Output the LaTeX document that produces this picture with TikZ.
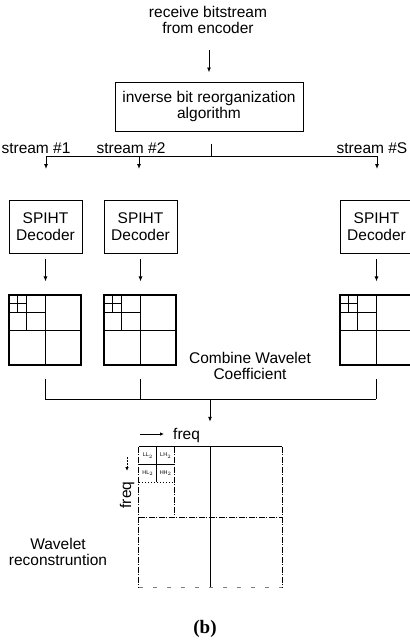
\documentclass[tikz,border=0pt]{standalone}
\usepackage{fontspec}
\setmainfont{Liberation Sans}
\newfontfamily\capserif{Liberation Serif}
\usetikzlibrary{arrows.meta,calc}
\begin{document}
\begin{tikzpicture}[x=1pt,y=-1pt,
  lbl/.style={font=\fontsize{15.5}{16.5}\selectfont, align=center, inner sep=0pt},
  boxx/.style={draw, line width=1pt, inner sep=0pt},
  ln/.style={line width=0.9pt},
  arr/.style={ln, -{Latex[length=5pt,width=4pt]}},
  gline/.style={line width=0.9pt},
  faint/.style={line width=0.8pt, dash pattern=on 6pt off 1.5pt on 1pt off 1.5pt},
  dotty/.style={line width=0.7pt, dash pattern=on 1.5pt off 1.5pt},
  tiny/.style={font=\fontsize{5.5}{6}\selectfont, inner sep=0pt}]
\useasboundingbox (0,0) rectangle (410,641);
\clip (0,0) rectangle (410,641);

% top
\node[lbl] (recv) at (208,20) {receive bitstream\\from encoder};
\node[boxx, lbl, minimum width=188pt, minimum height=49pt] (inv) at (209,106.5)
  {inverse bit reorganization\\algorithm};
\draw[arr, shorten <=16pt, shorten >=9pt] (recv.south -| inv.north) -- (inv.north);

% split to streams
\coordinate (sp) at (211,156);
\coordinate (s1) at (46,156);
\coordinate (s2) at (139,156);
\coordinate (s3) at (377,156);
\coordinate (t1) at (46,169);
\coordinate (t2) at (139,169);
\coordinate (t3) at (377,169);
\draw[ln, shorten <=12pt] (inv.south -| sp) -- (sp);
\draw[ln] (s1) -- (s3);
\draw[arr] (s1) -- (t1);
\draw[arr] (s2) -- (t2);
\draw[arr] (s3) -- (t3);
\node[lbl, anchor=base] (l1) at (36,153) {stream \#1};
\node[lbl, anchor=base] (l2) at (131,153) {stream \#2};
\node[lbl, anchor=base] (l3) at (372,153) {stream \#S};

% SPIHT decoders
\node[boxx, lbl, minimum width=73pt, minimum height=53pt] (d1) at (45.5,226.5) {SPIHT\\Decoder};
\node[boxx, lbl, minimum width=73pt, minimum height=53pt] (d2) at (140.5,226.5) {SPIHT\\Decoder};
\node[boxx, lbl, minimum width=73pt, minimum height=53pt] (d3) at (376.5,226.5) {SPIHT\\Decoder};

% wavelet grids
\foreach \n/\gx in {1/45, 2/140, 3/376} {
  \node[draw, line width=1.1pt, minimum width=72pt, minimum height=70pt, inner sep=0pt] (g\n) at (\gx,330) {};
  \draw[gline] (g\n.north) -- (g\n.south);
  \draw[gline] (g\n.west) -- (g\n.east);
  \draw[gline] ($(g\n.north west)!0.5!(g\n.north)$) -- ($(g\n.west)!0.5!(g\n.center)$);
  \draw[gline] ($(g\n.north west)!0.5!(g\n.west)$) -- ($(g\n.north)!0.5!(g\n.center)$);
  \draw[gline] ($(g\n.north west)!0.25!(g\n.north)$) -- ++(0,17.5);
  \draw[gline] ($(g\n.north west)!0.25!(g\n.west)$) -- ++(18,0);
}
\draw[arr, shorten <=5pt, shorten >=13pt] (d1.south) -- (d1.south |- g1.north);
\draw[arr, shorten <=5pt, shorten >=13pt] (d2.south) -- (d2.south |- g2.north);
\draw[arr, shorten <=5pt, shorten >=13pt] (d3.south) -- (d3.south |- g3.north);

% combine
\coordinate (cm) at (210,399);
\draw[ln, shorten <=13pt] (g1.south) -- (g1.south |- cm);
\draw[ln, shorten <=13pt] (g2.south) -- (g2.south |- cm);
\draw[ln, shorten <=13pt] (g3.south) -- (g3.south |- cm);
\draw[ln] (g1.south |- cm) -- (g3.south |- cm);
\node[lbl] (comb) at (250,366) {Combine Wavelet\\Coefficient};

% reconstructed wavelet square
\node[inner sep=0pt, minimum width=143pt, minimum height=140pt] (ws) at (210.5,517) {};
\draw[arr, shorten >=25pt] (cm) -- (ws.north -| cm);
\draw[line width=0.8pt] (ws.north west) -- (ws.north east);
\draw[faint] (ws.north west) -- (ws.south west);
\draw[faint] (ws.north east) -- (ws.south east);
\draw[line width=0.6pt, gray, dash pattern=on 4pt off 10pt] (ws.south west) -- (ws.south east);
\draw[line width=0.8pt] (ws.north) -- (ws.south);
\draw[faint] (ws.west) -- (ws.east);
\coordinate (q1) at ($(ws.north west)!0.5!(ws.north)$);
\coordinate (q2) at ($(ws.north west)!0.5!(ws.west)$);
\draw[faint] (q1) -- (q1 |- ws.west);
\draw[dotty] (q2) -- (q2 -| q1);
\coordinate (r1) at ($(ws.north west)!0.5!(q1)$);
\coordinate (r2) at ($(ws.north west)!0.5!(q2)$);
\draw[line width=0.6pt] (r1) -- (r1 |- q2);
\draw[line width=0.6pt] (r2) -- (r2 -| q1);
\node[tiny] (ll) at ($(ws.north west)!0.5!(r1 |- r2)$) {LL$_2$};
\node[tiny] (lh) at ($(r1)!0.5!(q1 |- r2)$) {LH$_2$};
\node[tiny] (hl) at ($(r2)!0.5!(r1 |- q2)$) {HL$_2$};
\node[tiny] (hh) at ($(r1 |- r2)!0.5!(q1 |- q2)$) {HH$_2$};

% freq axes
\coordinate (fa) at (140,434);
\coordinate (fb) at (164,434);
\draw[ln, -{Latex[length=4pt,width=3.5pt]}] (fa) -- (fb);
\node[lbl, anchor=base west] (fx) at (173,439) {freq};
\coordinate (va) at (127,457);
\coordinate (vb) at (127,471);
\draw[line width=0.8pt, dash pattern=on 2pt off 1pt, -{Latex[length=4pt,width=3.5pt]}] (va) -- (vb);
\node[lbl, rotate=90] (fy) at (127,495) {freq};

\node[lbl] (rec) at (58,552) {Wavelet\\reconstruntion};
\node[font=\capserif\bfseries\fontsize{19}{20}\selectfont, inner sep=0pt] (cap) at (205,629) {(b)};
\end{tikzpicture}
\end{document}
